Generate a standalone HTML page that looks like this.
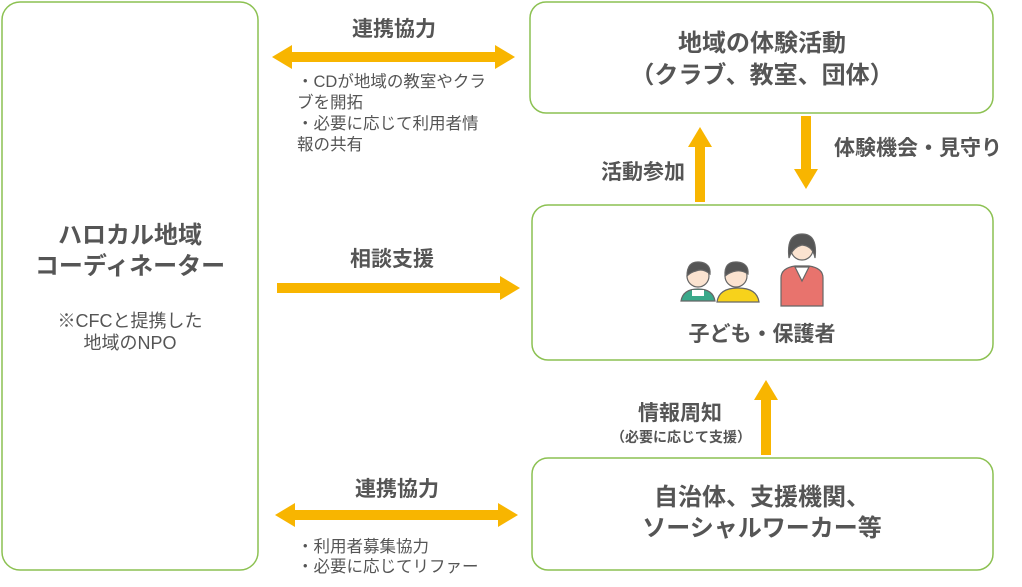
<!DOCTYPE html>
<html><head><meta charset="utf-8"><style>
html,body{margin:0;padding:0;background:#fff;width:1022px;height:587px;overflow:hidden}
text{font-family:"Liberation Sans","Noto Sans CJK JP",sans-serif;fill:#555}
.b{font-weight:bold}
</style></head><body>
<svg width="1022" height="587" viewBox="0 0 1022 587" xmlns="http://www.w3.org/2000/svg">
<g fill="#fff" stroke="#8cc152" stroke-width="1.5">
<rect x="2" y="2" width="256" height="568" rx="18"/>
<rect x="530" y="2" width="463" height="111" rx="16"/>
<rect x="532" y="205" width="461" height="155" rx="16"/>
<rect x="532" y="458" width="461" height="112" rx="16"/>
</g>
<g fill="#f8b500">
<rect x="290" y="52" width="208" height="10"/>
<polygon points="272,57 292,45 292,69"/><polygon points="515,57 495,45 495,69"/>
<rect x="277" y="283" width="226" height="10"/>
<polygon points="520,288 500,276 500,300"/>
<rect x="293" y="510" width="208" height="10"/>
<polygon points="275,515 295,503 295,527"/><polygon points="518,515 498,503 498,527"/>
<rect x="695" y="145" width="10" height="57"/>
<polygon points="700,127 688,147 712,147"/>
<rect x="801" y="116" width="10" height="55"/>
<polygon points="806,189 794,169 818,169"/>
<rect x="761" y="398" width="10" height="57"/>
<polygon points="766,380 754,400 778,400"/>
</g>
<g font-size="24" text-anchor="middle">
<text x="130" y="243" class="b">ハロカル地域</text>
<text x="130" y="274" class="b">コーディネーター</text>
<text x="762" y="51" class="b">地域の体験活動</text>
<text x="762" y="83" class="b">（クラブ、教室、団体）</text>
<text x="762" y="341" class="b" font-size="21">子ども・保護者</text>
<text x="762" y="505" class="b">自治体、支援機関、</text>
<text x="762" y="536" class="b">ソーシャルワーカー等</text>
</g>
<g font-size="18" text-anchor="middle">
<text x="130" y="327">※CFCと提携した</text>
<text x="130" y="349">地域のNPO</text>
</g>
<g font-size="21" text-anchor="middle">
<text x="394" y="36" class="b">連携協力</text>
<text x="392" y="266" class="b">相談支援</text>
<text x="397" y="496" class="b">連携協力</text>
<text x="643" y="179" class="b">活動参加</text>
<text x="918" y="155" class="b">体験機会・見守り</text>
<text x="680" y="420" class="b">情報周知</text>
</g>
<text x="681" y="442" font-size="14" class="b" text-anchor="middle">（必要に応じて支援）</text>
<g font-size="16.5">
<text x="297" y="87">・CDが地域の教室やクラ</text>
<text x="297" y="108">ブを開拓</text>
<text x="297" y="129">・必要に応じて利用者情</text>
<text x="297" y="150">報の共有</text>
<text x="297" y="552">・利用者募集協力</text>
<text x="297" y="572">・必要に応じてリファー</text>
</g>
<g stroke="#666" stroke-width="1.2">
<path d="M681,301 q2,-12 17,-12 q15,0 17,12 z" fill="#3aa88a"/>
<rect x="692" y="290" width="12" height="6" fill="#fff" stroke="none"/>
<circle cx="698" cy="276" r="11" fill="#fbe3d0"/>
<path d="M687,276 q0,-15 12,-14 q12,1 11,12 q-7,-6 -14,-3 q-5,1 -9,5z" fill="#555"/>
<path d="M717,302 q2,-14 21,-14 q19,0 21,14 z" fill="#f7d21b"/>
<circle cx="736" cy="276" r="11" fill="#fbe3d0"/>
<path d="M725,276 q-1,-15 12,-14 q12,1 11,12 q-6,-4 -12,-3 q-6,1 -11,5z" fill="#555"/>
<path d="M781,306 l0,-28 q0,-10 14,-12 l14,0 q14,2 14,12 l0,28 z" fill="#e8736d"/>
<path d="M795,267 l7,14 l7,-14 z" fill="#fff"/>
<circle cx="802" cy="249" r="11" fill="#fbe3d0"/>
<path d="M789,258 q-3,-24 13,-24 q16,0 13,24 q-2,-12 -13,-13 q-9,2 -13,13z" fill="#555"/>
</g>
</svg>
</body></html>
